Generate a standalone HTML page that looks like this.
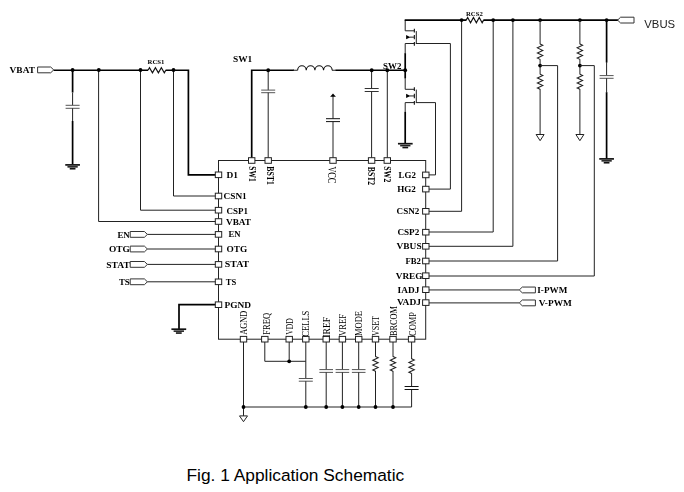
<!DOCTYPE html>
<html lang="en">
<head>
<meta charset="utf-8">
<title>Fig. 1 Application Schematic</title>
<style>
html,body{margin:0;padding:0;background:#fff;}
body{width:684px;height:492px;overflow:hidden;position:relative;}
svg{display:block;position:absolute;left:0;top:0;will-change:transform;}
.caption{position:absolute;left:186.5px;top:465px;margin:0;font:17.33px/20px "Liberation Sans",sans-serif;color:#000;white-space:nowrap;}
</style>
</head>
<body>
<svg width="684" height="460" viewBox="0 0 684 460">
<rect x="218.5" y="160.5" width="207.2" height="178.7" fill="none" stroke="#222" stroke-width="1"/>
<path d="M53.5 70.25 L148 70.25" fill="none" stroke="#000" stroke-width="1.7"/>
<path d="M72.6 70.25 L72.6 92.5" fill="none" stroke="#000" stroke-width="1.7"/>
<path d="M72.6 92.5 L72.6 105.2" fill="none" stroke="#222" stroke-width="1"/>
<path d="M65.6 105.3 L79.6 105.3" fill="none" stroke="#555" stroke-width="1"/>
<path d="M65.6 108.3 L79.6 108.3" fill="none" stroke="#555" stroke-width="1"/>
<path d="M72.6 108.3 L72.6 121" fill="none" stroke="#222" stroke-width="1"/>
<path d="M72.6 121 L72.6 164.5" fill="none" stroke="#000" stroke-width="1.7"/>
<path d="M65.25 164.9 L79.95 164.9" fill="none" stroke="#111" stroke-width="1.7"/>
<path d="M67.45 166.85 L77.74 166.85" fill="none" stroke="#222" stroke-width="1.6"/>
<path d="M69.73 168.75 L75.47 168.75" fill="none" stroke="#111" stroke-width="1.6"/>
<path d="M98.6 70.25 L98.6 221.5 L218.5 221.5" fill="none" stroke="#222" stroke-width="1"/>
<path d="M140.5 70.25 L140.5 210.2 L218.5 210.2" fill="none" stroke="#222" stroke-width="1"/>
<path d="M148 70.25 L149.48 67.65 L152.45 72.85 L155.42 67.65 L158.38 72.85 L161.35 67.65 L164.32 72.85 L165.8 70.25" fill="none" stroke="#111" stroke-width="1.15" stroke-linejoin="miter"/>
<path d="M165.6 70.25 L188.4 70.25 L188.4 174.8 L218.5 174.8" fill="none" stroke="#000" stroke-width="1.7"/>
<path d="M173.5 70.25 L173.5 196 L218.5 196" fill="none" stroke="#222" stroke-width="1"/>
<circle cx="72.6" cy="70" r="1.9" fill="#000"/>
<circle cx="98.8" cy="70" r="1.9" fill="#000"/>
<circle cx="140.5" cy="70" r="1.9" fill="#000"/>
<circle cx="173.5" cy="70" r="1.9" fill="#000"/>
<path d="M251.7 160.5 L251.7 70.25 L294 70.25" fill="none" stroke="#000" stroke-width="1.7"/>
<path d="M293 70.25 L297.6 70.25" fill="none" stroke="#222" stroke-width="1"/>
<path d="M297.6 70.25 A4.33 4.7 0 0 1 306.25 70.25 A4.33 4.7 0 0 1 314.9 70.25 A4.33 4.7 0 0 1 323.55 70.25 A4.33 4.7 0 0 1 332.2 70.25" fill="none" stroke="#111" stroke-width="1.1"/>
<path d="M332 70.25 L336 70.25" fill="none" stroke="#222" stroke-width="1"/>
<path d="M335.6 70.25 L404.9 70.25" fill="none" stroke="#000" stroke-width="1.7"/>
<path d="M268.2 70.25 L268.2 90.1" fill="none" stroke="#222" stroke-width="1"/>
<path d="M261.2 90.1 L275.2 90.1" fill="none" stroke="#555" stroke-width="1"/>
<path d="M261.2 92.7 L275.2 92.7" fill="none" stroke="#555" stroke-width="1"/>
<path d="M268.2 92.7 L268.2 160.5" fill="none" stroke="#222" stroke-width="1"/>
<circle cx="268.2" cy="70.25" r="1.9" fill="#000"/>
<path d="M333 95.5 L333 118.6" fill="none" stroke="#222" stroke-width="1"/>
<path d="M333 93.5 L335.9 96.7 L330.1 96.7 Z" fill="#000"/>
<path d="M326 118.7 L340 118.7" fill="none" stroke="#111" stroke-width="1"/>
<path d="M326 121.6 L340 121.6" fill="none" stroke="#111" stroke-width="1"/>
<path d="M333 121.6 L333 160.5" fill="none" stroke="#222" stroke-width="1"/>
<path d="M371.6 70.25 L371.6 88.5" fill="none" stroke="#222" stroke-width="1"/>
<path d="M364.7 88.5 L378.7 88.5" fill="none" stroke="#333" stroke-width="1"/>
<path d="M364.7 91.5 L378.7 91.5" fill="none" stroke="#333" stroke-width="1"/>
<path d="M371.6 91.5 L371.6 160.5" fill="none" stroke="#222" stroke-width="1"/>
<circle cx="371.7" cy="70.25" r="1.9" fill="#000"/>
<path d="M387.3 70.25 L387.3 160.5" fill="none" stroke="#222" stroke-width="1"/>
<circle cx="387.3" cy="70.25" r="1.9" fill="#000"/>
<path d="M405.2 20.1 L405.2 30.8" fill="none" stroke="#222" stroke-width="1"/>
<path d="M405.2 30.8 L414.35 30.8" fill="none" stroke="#222" stroke-width="1"/>
<path d="M405.2 43.5 L414.35 43.5" fill="none" stroke="#222" stroke-width="1"/>
<path d="M414.35 28.8 L414.35 32.4" fill="none" stroke="#111" stroke-width="1.1"/>
<path d="M414.35 34.95 L414.35 39.35" fill="none" stroke="#111" stroke-width="1.1"/>
<path d="M414.35 41.9 L414.35 45.7" fill="none" stroke="#111" stroke-width="1.1"/>
<path d="M416.3 31.1 L416.3 43.5" fill="none" stroke="#222" stroke-width="1"/>
<path d="M415.8 43.5 L450.4 43.5" fill="none" stroke="#222" stroke-width="1"/>
<path d="M406.1 35.05 L410.4 37.15 L406.1 39.25 Z" fill="#000"/>
<path d="M409.7 37.15 L414.35 37.15" fill="none" stroke="#222" stroke-width="1"/>
<path d="M405.2 43.5 L405.2 53.5" fill="none" stroke="#222" stroke-width="1"/>
<path d="M405.2 53.2 L405.2 78.3" fill="none" stroke="#000" stroke-width="1.7"/>
<path d="M405.2 78 L405.2 89.3" fill="none" stroke="#222" stroke-width="1"/>
<path d="M405.2 89.3 L414.35 89.3" fill="none" stroke="#222" stroke-width="1"/>
<path d="M405.2 102.6 L414.35 102.6" fill="none" stroke="#222" stroke-width="1"/>
<path d="M414.35 87.3 L414.35 90.9" fill="none" stroke="#111" stroke-width="1.1"/>
<path d="M414.35 93.75 L414.35 98.15" fill="none" stroke="#111" stroke-width="1.1"/>
<path d="M414.35 101 L414.35 104.8" fill="none" stroke="#111" stroke-width="1.1"/>
<path d="M416.3 89.6 L416.3 102.6" fill="none" stroke="#222" stroke-width="1"/>
<path d="M415.8 102.6 L435.5 102.6" fill="none" stroke="#222" stroke-width="1"/>
<path d="M406.1 93.85 L410.4 95.95 L406.1 98.05 Z" fill="#000"/>
<path d="M409.7 95.95 L414.35 95.95" fill="none" stroke="#222" stroke-width="1"/>
<path d="M405.2 102.6 L405.2 112.2" fill="none" stroke="#222" stroke-width="1"/>
<path d="M405.2 111.9 L405.2 143.5" fill="none" stroke="#000" stroke-width="1.7"/>
<path d="M397.95 143.7 L412.65 143.7" fill="none" stroke="#111" stroke-width="1.7"/>
<path d="M400.16 145.65 L410.44 145.65" fill="none" stroke="#222" stroke-width="1.6"/>
<path d="M402.43 147.55 L408.17 147.55" fill="none" stroke="#111" stroke-width="1.6"/>
<path d="M450.4 43.5 L450.4 189.1 L425.7 189.1" fill="none" stroke="#222" stroke-width="1"/>
<path d="M435.5 102.6 L435.5 174.9 L425.7 174.9" fill="none" stroke="#222" stroke-width="1"/>
<circle cx="405.2" cy="70.25" r="1.9" fill="#000"/>
<path d="M404.7 20.1 L466.4 20.1" fill="none" stroke="#000" stroke-width="1.7"/>
<path d="M466.2 20.1 L467.65 17.5 L470.55 22.7 L473.45 17.5 L476.35 22.7 L479.25 17.5 L482.15 22.7 L483.6 20.1" fill="none" stroke="#111" stroke-width="1.15" stroke-linejoin="miter"/>
<path d="M483.4 20.1 L618 20.1" fill="none" stroke="#000" stroke-width="1.7"/>
<path d="M461.6 20.1 L461.6 211.3 L425.7 211.3" fill="none" stroke="#222" stroke-width="1"/>
<path d="M493.2 20.1 L493.2 232 L425.7 232" fill="none" stroke="#222" stroke-width="1"/>
<path d="M512.9 20.1 L512.9 246.3 L425.7 246.3" fill="none" stroke="#222" stroke-width="1"/>
<circle cx="461.6" cy="20.1" r="1.9" fill="#000"/>
<circle cx="493.2" cy="20.1" r="1.9" fill="#000"/>
<circle cx="512.9" cy="20.1" r="1.9" fill="#000"/>
<circle cx="540.1" cy="20.1" r="1.9" fill="#000"/>
<circle cx="579.9" cy="20.1" r="1.9" fill="#000"/>
<circle cx="606.6" cy="20.1" r="1.9" fill="#000"/>
<path d="M540.1 20.1 L540.1 44.2" fill="none" stroke="#222" stroke-width="1"/>
<path d="M540.1 44 L542.8 45.28 L537.4 47.85 L542.8 50.42 L537.4 52.98 L542.8 55.55 L537.4 58.12 L540.1 59.4" fill="none" stroke="#222" stroke-width="1.05" stroke-linejoin="miter"/>
<path d="M540.1 59.2 L540.1 74.4" fill="none" stroke="#222" stroke-width="1"/>
<path d="M540.1 74.2 L542.8 75.45 L537.4 77.95 L542.8 80.45 L537.4 82.95 L542.8 85.45 L537.4 87.95 L540.1 89.2" fill="none" stroke="#222" stroke-width="1.05" stroke-linejoin="miter"/>
<path d="M540.1 89 L540.1 134.5" fill="none" stroke="#222" stroke-width="1"/>
<path d="M536.1 134.5 L544.1 134.5 L540.1 140.7 Z" fill="#fff" stroke="#222" stroke-width="1"/>
<circle cx="540.1" cy="65.6" r="1.9" fill="#000"/>
<path d="M540.1 65.6 L557.6 65.6 L557.6 261 L425.7 261" fill="none" stroke="#222" stroke-width="1"/>
<path d="M579.9 20.1 L579.9 44.2" fill="none" stroke="#222" stroke-width="1"/>
<path d="M579.9 44 L582.6 45.28 L577.2 47.85 L582.6 50.42 L577.2 52.98 L582.6 55.55 L577.2 58.12 L579.9 59.4" fill="none" stroke="#222" stroke-width="1.05" stroke-linejoin="miter"/>
<path d="M579.9 59.2 L579.9 74.4" fill="none" stroke="#222" stroke-width="1"/>
<path d="M579.9 74.2 L582.6 75.45 L577.2 77.95 L582.6 80.45 L577.2 82.95 L582.6 85.45 L577.2 87.95 L579.9 89.2" fill="none" stroke="#222" stroke-width="1.05" stroke-linejoin="miter"/>
<path d="M579.9 89 L579.9 134.5" fill="none" stroke="#222" stroke-width="1"/>
<path d="M575.9 134.5 L583.9 134.5 L579.9 140.7 Z" fill="#fff" stroke="#222" stroke-width="1"/>
<circle cx="579.9" cy="65.6" r="1.9" fill="#000"/>
<path d="M579.9 65.6 L594.3 65.6 L594.3 276 L425.7 276" fill="none" stroke="#222" stroke-width="1"/>
<path d="M606.6 20.1 L606.6 62.5" fill="none" stroke="#000" stroke-width="1.7"/>
<path d="M606.6 62 L606.6 75.6" fill="none" stroke="#222" stroke-width="1"/>
<path d="M599.6 75.6 L613.6 75.6" fill="none" stroke="#555" stroke-width="1"/>
<path d="M599.6 78.3 L613.6 78.3" fill="none" stroke="#555" stroke-width="1"/>
<path d="M606.6 78.3 L606.6 92.4" fill="none" stroke="#222" stroke-width="1"/>
<path d="M606.6 92.2 L606.6 158.8" fill="none" stroke="#000" stroke-width="1.7"/>
<path d="M599.25 158.9 L613.95 158.9" fill="none" stroke="#111" stroke-width="1.7"/>
<path d="M601.46 160.85 L611.75 160.85" fill="none" stroke="#222" stroke-width="1.6"/>
<path d="M603.73 162.75 L609.47 162.75" fill="none" stroke="#111" stroke-width="1.6"/>
<path d="M634 17.2 L620.6 17.2 L617.6 20.1 L620.6 23 L634 23 Z" fill="#fff" stroke="#333" stroke-width="1"/>
<text x="644.3" y="27.6" font-family="Liberation Sans, sans-serif" font-size="10.2" textLength="30.8" lengthAdjust="spacingAndGlyphs" fill="#222">VBUS</text>
<path d="M37.6 67 L50.7 67 L53.7 69.9 L50.7 72.8 L37.6 72.8 Z" fill="#fff" stroke="#333" stroke-width="1"/>
<text x="9.6" y="73.2" font-family="Liberation Serif, serif" font-size="9" font-weight="bold" textLength="25.4" lengthAdjust="spacingAndGlyphs" fill="#000">VBAT</text>
<path d="M147.3 234.4 L218.5 234.4" fill="none" stroke="#222" stroke-width="1"/>
<path d="M130.2 231.5 L144.4 231.5 L147.4 234.4 L144.4 237.3 L130.2 237.3 Z" fill="#fff" stroke="#333" stroke-width="1"/>
<text x="117.4" y="237.6" font-family="Liberation Serif, serif" font-size="9" font-weight="bold" textLength="12.4" lengthAdjust="spacingAndGlyphs" fill="#000">EN</text>
<path d="M147.3 249 L218.5 249" fill="none" stroke="#222" stroke-width="1"/>
<path d="M130.2 246.1 L144.4 246.1 L147.4 249 L144.4 251.9 L130.2 251.9 Z" fill="#fff" stroke="#333" stroke-width="1"/>
<text x="109" y="252.2" font-family="Liberation Serif, serif" font-size="9" font-weight="bold" textLength="20.8" lengthAdjust="spacingAndGlyphs" fill="#000">OTG</text>
<path d="M147.3 264.4 L218.5 264.4" fill="none" stroke="#222" stroke-width="1"/>
<path d="M130.2 261.5 L144.4 261.5 L147.4 264.4 L144.4 267.3 L130.2 267.3 Z" fill="#fff" stroke="#333" stroke-width="1"/>
<text x="106.3" y="267.6" font-family="Liberation Serif, serif" font-size="9" font-weight="bold" textLength="23.5" lengthAdjust="spacingAndGlyphs" fill="#000">STAT</text>
<path d="M147.3 281.8 L218.5 281.8" fill="none" stroke="#222" stroke-width="1"/>
<path d="M130.2 278.9 L144.4 278.9 L147.4 281.8 L144.4 284.7 L130.2 284.7 Z" fill="#fff" stroke="#333" stroke-width="1"/>
<text x="118.9" y="285" font-family="Liberation Serif, serif" font-size="9" font-weight="bold" textLength="10.9" lengthAdjust="spacingAndGlyphs" fill="#000">TS</text>
<path d="M425.7 289.95 L519.3 289.95" fill="none" stroke="#222" stroke-width="1"/>
<path d="M535.4 287.05 L522.3 287.05 L519.3 289.95 L522.3 292.85 L535.4 292.85 Z" fill="#fff" stroke="#333" stroke-width="1"/>
<text x="537.3" y="293.15" font-family="Liberation Serif, serif" font-size="9" font-weight="bold" textLength="30" lengthAdjust="spacingAndGlyphs" fill="#000">I-PWM</text>
<path d="M425.7 302.9 L519.3 302.9" fill="none" stroke="#222" stroke-width="1"/>
<path d="M535.4 300 L522.3 300 L519.3 302.9 L522.3 305.8 L535.4 305.8 Z" fill="#fff" stroke="#333" stroke-width="1"/>
<text x="538.8" y="306.1" font-family="Liberation Serif, serif" font-size="9" font-weight="bold" textLength="33" lengthAdjust="spacingAndGlyphs" fill="#000">V-PWM</text>
<path d="M218.5 304.7 L179 304.7 L179 329" fill="none" stroke="#000" stroke-width="1.7"/>
<path d="M171.4 329.2 L186.2 329.2" fill="none" stroke="#111" stroke-width="1.7"/>
<path d="M173.62 331.15 L183.98 331.15" fill="none" stroke="#222" stroke-width="1.6"/>
<path d="M175.91 333.05 L181.69 333.05" fill="none" stroke="#111" stroke-width="1.6"/>
<path d="M243.5 339.2 L243.5 415.9" fill="none" stroke="#222" stroke-width="1"/>
<path d="M239.5 415.9 L247.5 415.9 L243.5 421.7 Z" fill="#fff" stroke="#222" stroke-width="1"/>
<path d="M243.5 407 L411.6 407 L411.6 389.2" fill="none" stroke="#222" stroke-width="1"/>
<path d="M264.8 339.2 L264.8 361.3 L305.8 361.3" fill="none" stroke="#222" stroke-width="1"/>
<path d="M289.2 339.2 L289.2 361.3" fill="none" stroke="#222" stroke-width="1"/>
<circle cx="289.2" cy="361.3" r="1.9" fill="#000"/>
<path d="M305.8 339.2 L305.8 378.5" fill="none" stroke="#222" stroke-width="1"/>
<path d="M298.8 378.5 L312.8 378.5" fill="none" stroke="#555" stroke-width="1"/>
<path d="M298.8 381.2 L312.8 381.2" fill="none" stroke="#555" stroke-width="1"/>
<path d="M305.8 381.2 L305.8 407" fill="none" stroke="#222" stroke-width="1"/>
<path d="M326.2 339.2 L326.2 369.6" fill="none" stroke="#222" stroke-width="1"/>
<path d="M319.4 369.6 L333 369.6" fill="none" stroke="#555" stroke-width="1"/>
<path d="M319.4 372.4 L333 372.4" fill="none" stroke="#555" stroke-width="1"/>
<path d="M326.2 372.4 L326.2 407" fill="none" stroke="#222" stroke-width="1"/>
<path d="M342.4 339.2 L342.4 369.6" fill="none" stroke="#222" stroke-width="1"/>
<path d="M335.6 369.6 L349.2 369.6" fill="none" stroke="#555" stroke-width="1"/>
<path d="M335.6 372.4 L349.2 372.4" fill="none" stroke="#555" stroke-width="1"/>
<path d="M342.4 372.4 L342.4 407" fill="none" stroke="#222" stroke-width="1"/>
<path d="M358.7 339.2 L358.7 369.6" fill="none" stroke="#222" stroke-width="1"/>
<path d="M351.9 369.6 L365.5 369.6" fill="none" stroke="#555" stroke-width="1"/>
<path d="M351.9 372.4 L365.5 372.4" fill="none" stroke="#555" stroke-width="1"/>
<path d="M358.7 372.4 L358.7 407" fill="none" stroke="#222" stroke-width="1"/>
<path d="M375.5 339.2 L375.5 356.8" fill="none" stroke="#222" stroke-width="1"/>
<path d="M375.5 356.6 L378.2 357.82 L372.8 360.25 L378.2 362.68 L372.8 365.12 L378.2 367.55 L372.8 369.98 L375.5 371.2" fill="none" stroke="#222" stroke-width="1.05" stroke-linejoin="miter"/>
<path d="M375.5 371 L375.5 407" fill="none" stroke="#222" stroke-width="1"/>
<path d="M393 339.2 L393 356.8" fill="none" stroke="#222" stroke-width="1"/>
<path d="M393 356.6 L395.7 357.82 L390.3 360.25 L395.7 362.68 L390.3 365.12 L395.7 367.55 L390.3 369.98 L393 371.2" fill="none" stroke="#222" stroke-width="1.05" stroke-linejoin="miter"/>
<path d="M393 371 L393 407" fill="none" stroke="#222" stroke-width="1"/>
<path d="M411.6 339.2 L411.6 359" fill="none" stroke="#222" stroke-width="1"/>
<path d="M411.6 358.8 L414.3 360.02 L408.9 362.45 L414.3 364.88 L408.9 367.32 L414.3 369.75 L408.9 372.18 L411.6 373.4" fill="none" stroke="#222" stroke-width="1.05" stroke-linejoin="miter"/>
<path d="M411.6 373.2 L411.6 386.3" fill="none" stroke="#222" stroke-width="1"/>
<path d="M404.6 386.5 L418.6 386.5" fill="none" stroke="#111" stroke-width="1"/>
<path d="M404.6 389.5 L418.6 389.5" fill="none" stroke="#111" stroke-width="1"/>
<circle cx="243.5" cy="407" r="1.9" fill="#000"/>
<circle cx="305.8" cy="407" r="1.9" fill="#000"/>
<circle cx="326.2" cy="407" r="1.9" fill="#000"/>
<circle cx="342.4" cy="407" r="1.9" fill="#000"/>
<circle cx="358.7" cy="407" r="1.9" fill="#000"/>
<circle cx="375.5" cy="407" r="1.9" fill="#000"/>
<circle cx="393" cy="407" r="1.9" fill="#000"/>
<rect x="248.5" y="157.7" width="6.4" height="5.6" fill="#fff" stroke="#222" stroke-width="1"/>
<rect x="265" y="157.7" width="6.4" height="5.6" fill="#fff" stroke="#222" stroke-width="1"/>
<rect x="329.8" y="157.7" width="6.4" height="5.6" fill="#fff" stroke="#222" stroke-width="1"/>
<rect x="368.4" y="157.7" width="6.4" height="5.6" fill="#fff" stroke="#222" stroke-width="1"/>
<rect x="384.1" y="157.7" width="6.4" height="5.6" fill="#fff" stroke="#222" stroke-width="1"/>
<rect x="215.3" y="172" width="6.4" height="5.6" fill="#fff" stroke="#222" stroke-width="1"/>
<rect x="215.3" y="193.2" width="6.4" height="5.6" fill="#fff" stroke="#222" stroke-width="1"/>
<rect x="215.3" y="207.4" width="6.4" height="5.6" fill="#fff" stroke="#222" stroke-width="1"/>
<rect x="215.3" y="218.7" width="6.4" height="5.6" fill="#fff" stroke="#222" stroke-width="1"/>
<rect x="215.3" y="231.6" width="6.4" height="5.6" fill="#fff" stroke="#222" stroke-width="1"/>
<rect x="215.3" y="246.2" width="6.4" height="5.6" fill="#fff" stroke="#222" stroke-width="1"/>
<rect x="215.3" y="261.6" width="6.4" height="5.6" fill="#fff" stroke="#222" stroke-width="1"/>
<rect x="215.3" y="279" width="6.4" height="5.6" fill="#fff" stroke="#222" stroke-width="1"/>
<rect x="215.3" y="301.9" width="6.4" height="5.6" fill="#fff" stroke="#222" stroke-width="1"/>
<rect x="422.6" y="172.1" width="6.4" height="5.6" fill="#fff" stroke="#222" stroke-width="1"/>
<rect x="422.6" y="186.3" width="6.4" height="5.6" fill="#fff" stroke="#222" stroke-width="1"/>
<rect x="422.6" y="208.5" width="6.4" height="5.6" fill="#fff" stroke="#222" stroke-width="1"/>
<rect x="422.6" y="229.4" width="6.4" height="5.6" fill="#fff" stroke="#222" stroke-width="1"/>
<rect x="422.6" y="243.5" width="6.4" height="5.6" fill="#fff" stroke="#222" stroke-width="1"/>
<rect x="422.6" y="258.2" width="6.4" height="5.6" fill="#fff" stroke="#222" stroke-width="1"/>
<rect x="422.6" y="272.9" width="6.4" height="5.6" fill="#fff" stroke="#222" stroke-width="1"/>
<rect x="422.6" y="286.9" width="6.4" height="5.6" fill="#fff" stroke="#222" stroke-width="1"/>
<rect x="422.6" y="299.8" width="6.4" height="5.6" fill="#fff" stroke="#222" stroke-width="1"/>
<rect x="240.3" y="336.4" width="6.4" height="5.6" fill="#fff" stroke="#222" stroke-width="1"/>
<rect x="261.6" y="336.4" width="6.4" height="5.6" fill="#fff" stroke="#222" stroke-width="1"/>
<rect x="286" y="336.4" width="6.4" height="5.6" fill="#fff" stroke="#222" stroke-width="1"/>
<rect x="302.6" y="336.4" width="6.4" height="5.6" fill="#fff" stroke="#222" stroke-width="1"/>
<rect x="323" y="336.4" width="6.4" height="5.6" fill="#fff" stroke="#222" stroke-width="1"/>
<rect x="339.2" y="336.4" width="6.4" height="5.6" fill="#fff" stroke="#222" stroke-width="1"/>
<rect x="355.5" y="336.4" width="6.4" height="5.6" fill="#fff" stroke="#222" stroke-width="1"/>
<rect x="372.3" y="336.4" width="6.4" height="5.6" fill="#fff" stroke="#222" stroke-width="1"/>
<rect x="389.8" y="336.4" width="6.4" height="5.6" fill="#fff" stroke="#222" stroke-width="1"/>
<rect x="408.4" y="336.4" width="6.4" height="5.6" fill="#fff" stroke="#222" stroke-width="1"/>
<text x="226.5" y="177.6" font-family="Liberation Serif, serif" font-size="8.4" font-weight="bold" textLength="11.5" lengthAdjust="spacingAndGlyphs" fill="#000">D1</text>
<text x="223.5" y="199.2" font-family="Liberation Serif, serif" font-size="8.4" font-weight="bold" textLength="23.25" lengthAdjust="spacingAndGlyphs" fill="#000">CSN1</text>
<text x="226.5" y="213.5" font-family="Liberation Serif, serif" font-size="8.4" font-weight="bold" textLength="21.5" lengthAdjust="spacingAndGlyphs" fill="#000">CSP1</text>
<text x="226" y="224.6" font-family="Liberation Serif, serif" font-size="8.4" font-weight="bold" textLength="25" lengthAdjust="spacingAndGlyphs" fill="#000">VBAT</text>
<text x="228.5" y="237.4" font-family="Liberation Serif, serif" font-size="8.4" font-weight="bold" textLength="12" lengthAdjust="spacingAndGlyphs" fill="#000">EN</text>
<text x="226.6" y="251.8" font-family="Liberation Serif, serif" font-size="8.4" font-weight="bold" textLength="20.7" lengthAdjust="spacingAndGlyphs" fill="#000">OTG</text>
<text x="224.8" y="267.2" font-family="Liberation Serif, serif" font-size="8.4" font-weight="bold" textLength="24.4" lengthAdjust="spacingAndGlyphs" fill="#000">STAT</text>
<text x="225.7" y="284.6" font-family="Liberation Serif, serif" font-size="8.4" font-weight="bold" textLength="10.5" lengthAdjust="spacingAndGlyphs" fill="#000">TS</text>
<text x="224.5" y="307.5" font-family="Liberation Serif, serif" font-size="8.4" font-weight="bold" textLength="26.5" lengthAdjust="spacingAndGlyphs" fill="#000">PGND</text>
<text x="398.6" y="177.7" font-family="Liberation Serif, serif" font-size="8.4" font-weight="bold" textLength="17.3" lengthAdjust="spacingAndGlyphs" fill="#000">LG2</text>
<text x="397.2" y="191.9" font-family="Liberation Serif, serif" font-size="8.4" font-weight="bold" textLength="18.7" lengthAdjust="spacingAndGlyphs" fill="#000">HG2</text>
<text x="396.6" y="214.1" font-family="Liberation Serif, serif" font-size="8.4" font-weight="bold" textLength="22.7" lengthAdjust="spacingAndGlyphs" fill="#000">CSN2</text>
<text x="397.4" y="235" font-family="Liberation Serif, serif" font-size="8.4" font-weight="bold" textLength="21.9" lengthAdjust="spacingAndGlyphs" fill="#000">CSP2</text>
<text x="396.6" y="249.1" font-family="Liberation Serif, serif" font-size="8.4" font-weight="bold" textLength="25" lengthAdjust="spacingAndGlyphs" fill="#000">VBUS</text>
<text x="405.4" y="263.8" font-family="Liberation Serif, serif" font-size="8.4" font-weight="bold" textLength="15.5" lengthAdjust="spacingAndGlyphs" fill="#000">FB2</text>
<text x="395.7" y="278.5" font-family="Liberation Serif, serif" font-size="8.4" font-weight="bold" textLength="26.8" lengthAdjust="spacingAndGlyphs" fill="#000">VREG</text>
<text x="397.6" y="292.5" font-family="Liberation Serif, serif" font-size="8.4" font-weight="bold" textLength="21.7" lengthAdjust="spacingAndGlyphs" fill="#000">IADJ</text>
<text x="397" y="305.4" font-family="Liberation Serif, serif" font-size="8.4" font-weight="bold" textLength="23.9" lengthAdjust="spacingAndGlyphs" fill="#000">VADJ</text>
<text x="248.8" y="166.3" font-family="Liberation Serif, serif" font-size="10.5" font-weight="bold" transform="rotate(90 248.8 166.3)" textLength="15.3" lengthAdjust="spacingAndGlyphs" fill="#000">SW1</text>
<text x="267" y="166.3" font-family="Liberation Serif, serif" font-size="10.5" font-weight="bold" transform="rotate(90 267 166.3)" textLength="18.5" lengthAdjust="spacingAndGlyphs" fill="#000">BST1</text>
<text x="328.4" y="166.4" font-family="Liberation Serif, serif" font-size="12" transform="rotate(90 328.4 166.4)" textLength="17" lengthAdjust="spacingAndGlyphs" fill="#000">VCC</text>
<text x="368.1" y="166.8" font-family="Liberation Serif, serif" font-size="10.5" font-weight="bold" transform="rotate(90 368.1 166.8)" textLength="18.4" lengthAdjust="spacingAndGlyphs" fill="#000">BST2</text>
<text x="384.3" y="166.3" font-family="Liberation Serif, serif" font-size="10.5" font-weight="bold" transform="rotate(90 384.3 166.3)" textLength="16" lengthAdjust="spacingAndGlyphs" fill="#000">SW2</text>
<text x="247" y="334.7" font-family="Liberation Serif, serif" font-size="9.7" transform="rotate(-90 247 334.7)" textLength="24" lengthAdjust="spacingAndGlyphs" fill="#000">AGND</text>
<text x="269.7" y="334.7" font-family="Liberation Serif, serif" font-size="9.7" transform="rotate(-90 269.7 334.7)" textLength="22" lengthAdjust="spacingAndGlyphs" fill="#000">FREQ</text>
<text x="293" y="334.7" font-family="Liberation Serif, serif" font-size="9.7" transform="rotate(-90 293 334.7)" textLength="16.4" lengthAdjust="spacingAndGlyphs" fill="#000">VDD</text>
<text x="309.4" y="336.8" font-family="Liberation Serif, serif" font-size="9.7" transform="rotate(-90 309.4 336.8)" textLength="26.2" lengthAdjust="spacingAndGlyphs" fill="#000">CELLS</text>
<text x="330" y="337.6" font-family="Liberation Serif, serif" font-size="11" transform="rotate(-90 330 337.6)" textLength="20.6" lengthAdjust="spacingAndGlyphs" fill="#000">IREF</text>
<text x="345.5" y="336" font-family="Liberation Serif, serif" font-size="9.7" transform="rotate(-90 345.5 336)" textLength="22" lengthAdjust="spacingAndGlyphs" fill="#000">VREF</text>
<text x="362.4" y="336" font-family="Liberation Serif, serif" font-size="9.7" transform="rotate(-90 362.4 336)" textLength="25" lengthAdjust="spacingAndGlyphs" fill="#000">MODE</text>
<text x="379.2" y="336" font-family="Liberation Serif, serif" font-size="9.7" transform="rotate(-90 379.2 336)" textLength="20" lengthAdjust="spacingAndGlyphs" fill="#000">VSET</text>
<text x="396.9" y="336" font-family="Liberation Serif, serif" font-size="9.7" transform="rotate(-90 396.9 336)" textLength="30" lengthAdjust="spacingAndGlyphs" fill="#000">BRCOM</text>
<text x="415.5" y="336" font-family="Liberation Serif, serif" font-size="9.7" transform="rotate(-90 415.5 336)" textLength="24" lengthAdjust="spacingAndGlyphs" fill="#000">COMP</text>
<text x="147.5" y="63.8" font-family="Liberation Serif, serif" font-size="6.6" font-weight="bold" textLength="17" lengthAdjust="spacingAndGlyphs" fill="#000">RCS1</text>
<text x="466" y="15.9" font-family="Liberation Serif, serif" font-size="6.2" font-weight="bold" textLength="16.8" lengthAdjust="spacingAndGlyphs" fill="#000">RCS2</text>
<text x="233" y="62.3" font-family="Liberation Serif, serif" font-size="9" font-weight="bold" textLength="19.3" lengthAdjust="spacingAndGlyphs" fill="#000">SW1</text>
<text x="383.1" y="68.9" font-family="Liberation Serif, serif" font-size="9" font-weight="bold" textLength="18.3" lengthAdjust="spacingAndGlyphs" fill="#000">SW2</text>
</svg>
<p class="caption">Fig. 1 Application Schematic</p>
</body>
</html>
